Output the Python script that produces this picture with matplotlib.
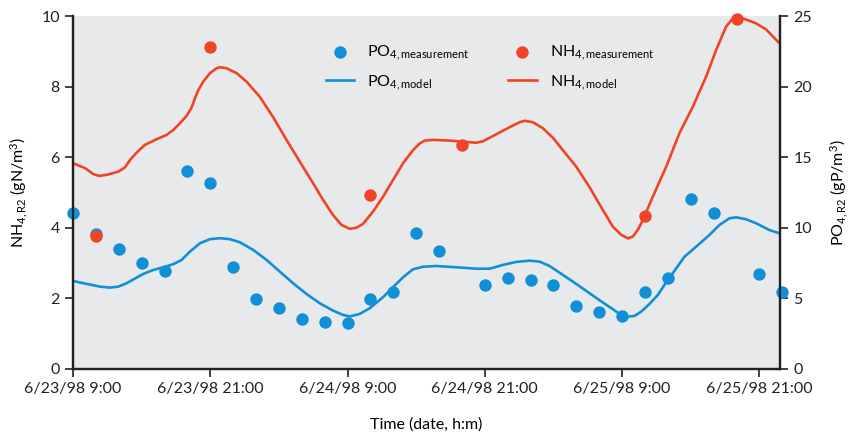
import datetime as dt
import matplotlib
matplotlib.use('Agg')
import matplotlib.pyplot as plt
import matplotlib.dates as mdates
from matplotlib.ticker import FuncFormatter, MultipleLocator

plt.rcParams['font.family'] = ['Lato', 'DejaVu Sans']
plt.rcParams['mathtext.fontset'] = 'custom'
plt.rcParams['mathtext.rm'] = 'Lato'
plt.rcParams['mathtext.it'] = 'Lato'

start = dt.datetime(1998, 6, 23, 9, 0)

# PO4 measurements (hours since 6/23/98 9:00, gP/m3)
po4_meas_h = [0, 2, 4, 6, 8, 10, 12, 14, 16, 18, 20, 22, 24, 26, 28, 30, 32,
              36, 38, 40, 42, 44, 46, 48, 50, 52, 54, 56, 60, 62]
po4_meas = [11.05, 9.56, 8.50, 7.51, 6.94, 14.0, 13.2, 7.22, 4.96, 4.32, 3.54,
            3.33, 3.26, 4.96, 5.45, 9.63, 8.38, 5.95, 6.44, 6.30, 5.95, 4.48,
            4.04, 3.75, 5.45, 6.47, 12.04, 11.07, 6.73, 5.45]

# NH4 measurements (gN/m3)
nh4_meas_h = [2, 12, 26, 34, 50, 58]
nh4_meas = [3.77, 9.11, 4.92, 6.35, 4.33, 9.92]

# NH4 model (gN/m3)
nh4_mod_h = [0, 1.05, 1.78, 2.30, 2.94, 3.96, 4.54, 4.98, 5.56, 6.29, 7.31, 8.18,
             8.76, 9.34, 9.93, 10.37, 10.66, 10.95, 11.38, 11.97, 12.55, 12.84,
             13.42, 14.3, 15.17, 16.33, 17.5, 18.66, 19.83, 20.99, 21.86, 22.73,
             23.47, 24.19, 24.78, 25.35, 26.23, 27.1, 27.97, 28.85, 29.72, 30.31,
             30.74, 31.47, 32.93, 34.38, 35.26, 35.83, 37.0, 38.17, 39.04, 39.48,
             40.2, 41.07, 41.95, 42.82, 43.99, 45.15, 46.32, 47.19, 47.92, 48.5,
             48.94, 49.37, 49.81, 50.68, 51.85, 53.01, 54.18, 55.34, 56.22,
             57.09, 57.67, 58.25, 58.84, 59.71, 60.58, 61.75]
nh4_mod = [5.83, 5.69, 5.52, 5.47, 5.50, 5.59, 5.71, 5.92, 6.13, 6.35, 6.51, 6.63,
           6.77, 6.96, 7.17, 7.41, 7.67, 7.90, 8.14, 8.38, 8.52, 8.55,
           8.52, 8.38, 8.14, 7.71, 7.13, 6.49, 5.87, 5.26, 4.79, 4.36,
           4.08, 3.97, 4.00, 4.11, 4.46, 4.88, 5.35, 5.83, 6.20, 6.39,
           6.47, 6.49, 6.47, 6.43, 6.41, 6.45, 6.65, 6.85, 6.99, 7.03,
           6.99, 6.82, 6.55, 6.20, 5.73, 5.15, 4.50, 4.03, 3.80, 3.70,
           3.75, 3.94, 4.22, 4.88, 5.73, 6.68, 7.43, 8.28, 9.04,
           9.70, 9.93, 9.96, 9.90, 9.79, 9.62, 9.23]

# PO4 model (gP/m3)
po4_mod_h = [0, 1.2, 2.36, 3.23, 3.96, 4.69, 5.41, 6.14, 7.01, 7.89, 8.76, 9.49,
             10.22, 11.09, 11.97, 12.84, 13.71, 14.59, 15.75, 16.92, 18.08, 19.24,
             20.41, 21.57, 22.73, 23.61, 24.19, 25.07, 25.94, 27.1, 27.97, 28.85,
             29.72, 30.6, 31.76, 33.51, 35.26, 36.42, 37.58, 38.75, 39.91, 40.79,
             41.66, 42.82, 43.99, 45.15, 46.32, 47.19, 47.77, 48.36, 49.08, 49.67,
             50.39, 51.12, 51.7, 52.43, 53.45, 54.47, 55.63, 56.51, 57.38, 57.96,
             58.84, 59.71, 60.87, 61.75]
po4_mod = [6.23, 6.02, 5.83, 5.76, 5.83, 6.07, 6.40, 6.73, 7.01, 7.20, 7.42, 7.72,
           8.31, 8.90, 9.19, 9.26, 9.19, 8.97, 8.43, 7.72, 6.89, 6.07,
           5.31, 4.65, 4.13, 3.82, 3.72, 3.90, 4.30, 5.08, 5.79, 6.49,
           7.06, 7.24, 7.29, 7.20, 7.10, 7.10, 7.37, 7.58, 7.67, 7.60,
           7.29, 6.66, 6.02, 5.36, 4.70, 4.23, 3.90, 3.70, 3.75, 4.06,
           4.60, 5.24, 5.95, 6.78, 7.95, 8.66, 9.49, 10.20, 10.67, 10.74,
           10.60, 10.32, 9.84, 9.61]

blue = '#1190D8'
red = '#EF4526'


def to_time(h):
    return [start + dt.timedelta(hours=x) for x in h]


fig = plt.figure(figsize=(8.52, 4.33), dpi=100)
ax_po = fig.add_axes([0.0857, 0.148, 0.8298, 0.815])
ax_nh = ax_po.twinx()

ax_po.set_facecolor('#E8E9EB')
ax_po.set_zorder(1)
ax_nh.set_zorder(2)

# PO4 on the right axis, NH4 on the left
ax_po.yaxis.tick_right()
ax_po.yaxis.set_label_position('right')
ax_nh.yaxis.tick_left()
ax_nh.yaxis.set_label_position('left')

l_po, = ax_po.plot(to_time(po4_mod_h), po4_mod, color=blue, lw=1.9,
                   solid_joinstyle='round')
s_po = ax_po.scatter(to_time(po4_meas_h), po4_meas, s=80, color=blue, zorder=3,
                     linewidths=0, clip_on=False)
l_nh, = ax_nh.plot(to_time(nh4_mod_h), nh4_mod, color=red, lw=1.9,
                   solid_joinstyle='round')
s_nh = ax_nh.scatter(to_time(nh4_meas_h), nh4_meas, s=80, color=red, zorder=3,
                     linewidths=0, clip_on=False)

ax_po.set_xlim(start, start + dt.timedelta(hours=61.8))
ax_po.set_ylim(0, 25)
ax_nh.set_ylim(0, 10)
ax_po.yaxis.set_major_locator(MultipleLocator(5))
ax_nh.yaxis.set_major_locator(MultipleLocator(2))

ax_po.set_xticks(to_time([0, 12, 24, 36, 48, 60]))


def fmt_date(x, pos):
    d = mdates.num2date(x)
    return f"{d.month}/{d.day}/{d.year % 100:02d} {d.hour}:{d.minute:02d}"


ax_po.xaxis.set_major_formatter(FuncFormatter(fmt_date))

for a in (ax_po, ax_nh):
    a.spines['top'].set_visible(False)
    for s in ('left', 'right', 'bottom'):
        a.spines[s].set_linewidth(1.6)
        a.spines[s].set_color('#222222')
    a.tick_params(direction='out', length=6, width=1.2, labelsize=11.5,
                  colors='#222222')

ax_nh.set_ylabel('NH$_{4,R2}$ (gN/m$^3$)', fontsize=11.5, labelpad=8)
ax_po.set_ylabel('PO$_{4,R2}$ (gP/m$^3$)', fontsize=11.5, labelpad=12)
ax_po.set_xlabel('Time (date, h:m)', fontsize=11.5, labelpad=15)

ax_nh.legend([s_po, l_po, s_nh, l_nh],
             ['PO$_{4,\\mathrm{measurement}}$', 'PO$_{4,\\mathrm{model}}$',
              'NH$_{4,\\mathrm{measurement}}$', 'NH$_{4,\\mathrm{model}}$'],
             ncol=2, frameon=False, loc='upper left',
             bbox_to_anchor=(0.337, 0.963), fontsize=11.5, labelspacing=0.72,
             columnspacing=2.4, handlelength=1.8)

fig.savefig('out.png', dpi=100)
